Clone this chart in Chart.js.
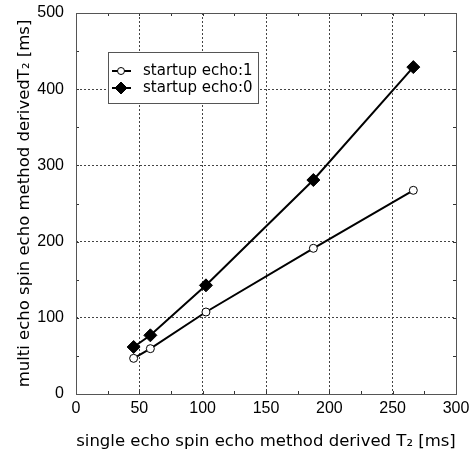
<!DOCTYPE html>
<html><head><meta charset="utf-8">
<script src="https://cdn.jsdelivr.net/npm/chart.js@4"></script>
<style>html,body{margin:0;padding:0;background:#fff}#wrap{width:472px;height:452px}</style>
</head><body><div id="wrap"><canvas id="c" width="472" height="452"></canvas></div>
<script>
const singleEchoT2 = [45.5, 58.7, 102.6, 187.4, 266.3];
const multiEchoStartup1 = [46.8, 59.5, 107.6, 191.2, 267.3];
const multiEchoStartup0 = [61.7, 77, 142.6, 280.8, 429];
const seriesNames = ['startup echo:1', 'startup echo:0'];
const xTitle = 'single echo spin echo method derived T\u2082 [ms]';
const yTitle = 'multi echo spin echo method derivedT\u2082 [ms]';
const FONT = "'DejaVu Sans', sans-serif";
const TICKFONT = "'Liberation Sans', 'DejaVu Sans', sans-serif";

const pts = ys => singleEchoT2.map((x, i) => ({x, y: ys[i]}));

const framePlugin = {
  id: 'frame',
  afterDraw(chart) {
    const {ctx, chartArea: a, scales: {x, y}} = chart;
    ctx.save();
    ctx.strokeStyle = '#333';
    ctx.lineWidth = 1;
    ctx.beginPath();
    for (let v = 0; v <= 300; v += 25) {
      const px = Math.round(x.getPixelForValue(v)) + 0.5;
      ctx.moveTo(px, a.bottom); ctx.lineTo(px, a.bottom - 3);
      ctx.moveTo(px, a.top); ctx.lineTo(px, a.top + 3);
    }
    for (let v = 0; v <= 500; v += 50) {
      const py = Math.round(y.getPixelForValue(v)) + 0.5;
      ctx.moveTo(a.left, py); ctx.lineTo(a.left + 3, py);
      ctx.moveTo(a.right, py); ctx.lineTo(a.right - 3, py);
    }
    ctx.stroke();
    ctx.strokeStyle = '#555';
    ctx.strokeRect(Math.round(a.left) + 0.5, Math.round(a.top) + 0.5, Math.round(a.right - a.left), Math.round(a.bottom - a.top));
    // legend
    const lx = 108, ly = 52, lw = 150, lh = 51;
    ctx.fillStyle = '#fff';
    ctx.fillRect(lx, ly, lw, lh);
    ctx.strokeStyle = '#555';
    ctx.strokeRect(lx + 0.5, ly + 0.5, lw, lh);
    chart.data.datasets.forEach((ds, i) => {
      const ry = ly + 19 + i * 17;
      ctx.strokeStyle = '#000';
      ctx.lineWidth = 2;
      ctx.beginPath(); ctx.moveTo(lx + 4, ry); ctx.lineTo(lx + 23, ry); ctx.stroke();
      ctx.lineWidth = 1;
      ctx.fillStyle = ds.pointBackgroundColor;
      ctx.beginPath();
      if (ds.pointStyle === 'rectRot') {
        const r = 6;
        ctx.moveTo(lx + 13, ry - r); ctx.lineTo(lx + 13 + r, ry); ctx.lineTo(lx + 13, ry + r); ctx.lineTo(lx + 13 - r, ry); ctx.closePath();
      } else {
        ctx.arc(lx + 13, ry, 3.5, 0, Math.PI * 2);
      }
      ctx.fill(); ctx.stroke();
      ctx.fillStyle = '#000';
      ctx.font = '15px ' + FONT;
      ctx.textBaseline = 'middle';
      ctx.fillText(ds.label, lx + 35, ry);
    });
    ctx.restore();
  }
};

new Chart(document.getElementById('c'), {
  type: 'scatter',
  data: {
    datasets: [
      {label: seriesNames[0], data: pts(multiEchoStartup1), showLine: true, borderColor: '#000', borderWidth: 2,
       pointStyle: 'circle', pointRadius: 4, pointBackgroundColor: '#fff', pointBorderColor: '#000', pointBorderWidth: 1},
      {label: seriesNames[1], data: pts(multiEchoStartup0), showLine: true, borderColor: '#000', borderWidth: 2,
       pointStyle: 'rectRot', pointRadius: 6.5, pointBackgroundColor: '#000', pointBorderColor: '#000', pointBorderWidth: 1}
    ]
  },
  options: {
    responsive: false, animation: false, devicePixelRatio: 1,
    layout: {padding: {top: 13, right: 16, left: 0, bottom: 0}},
    plugins: {legend: {display: false}, tooltip: {enabled: false}},
    scales: {
      x: {
        type: 'linear', min: 0, max: 300,
        ticks: {stepSize: 50, color: '#000', font: {family: TICKFONT, size: 16}, padding: 5, maxRotation: 0},
        grid: {color: '#444', drawTicks: false, tickLength: 0},
        border: {display: false, dash: [2, 2]},
        title: {display: true, text: xTitle, color: '#000', font: {family: FONT, size: 16.5}, padding: {top: 6, bottom: 0}},
        afterFit: s => { s.height = 58; s.paddingLeft = 0; s.paddingRight = 0; }
      },
      y: {
        type: 'linear', min: 0, max: 500,
        ticks: {stepSize: 100, color: '#000', font: {family: TICKFONT, size: 16}, padding: 12},
        grid: {color: '#444', drawTicks: false, tickLength: 0},
        border: {display: false, dash: [2, 2]},
        title: {display: true, text: yTitle, color: '#000', font: {family: FONT, size: 16.5}, padding: {top: 15, bottom: 0}},
        afterFit: s => { s.width = 76; s.paddingTop = 0; s.paddingBottom = 0; }
      }
    }
  },
  plugins: [framePlugin]
});
</script>
</body></html>
